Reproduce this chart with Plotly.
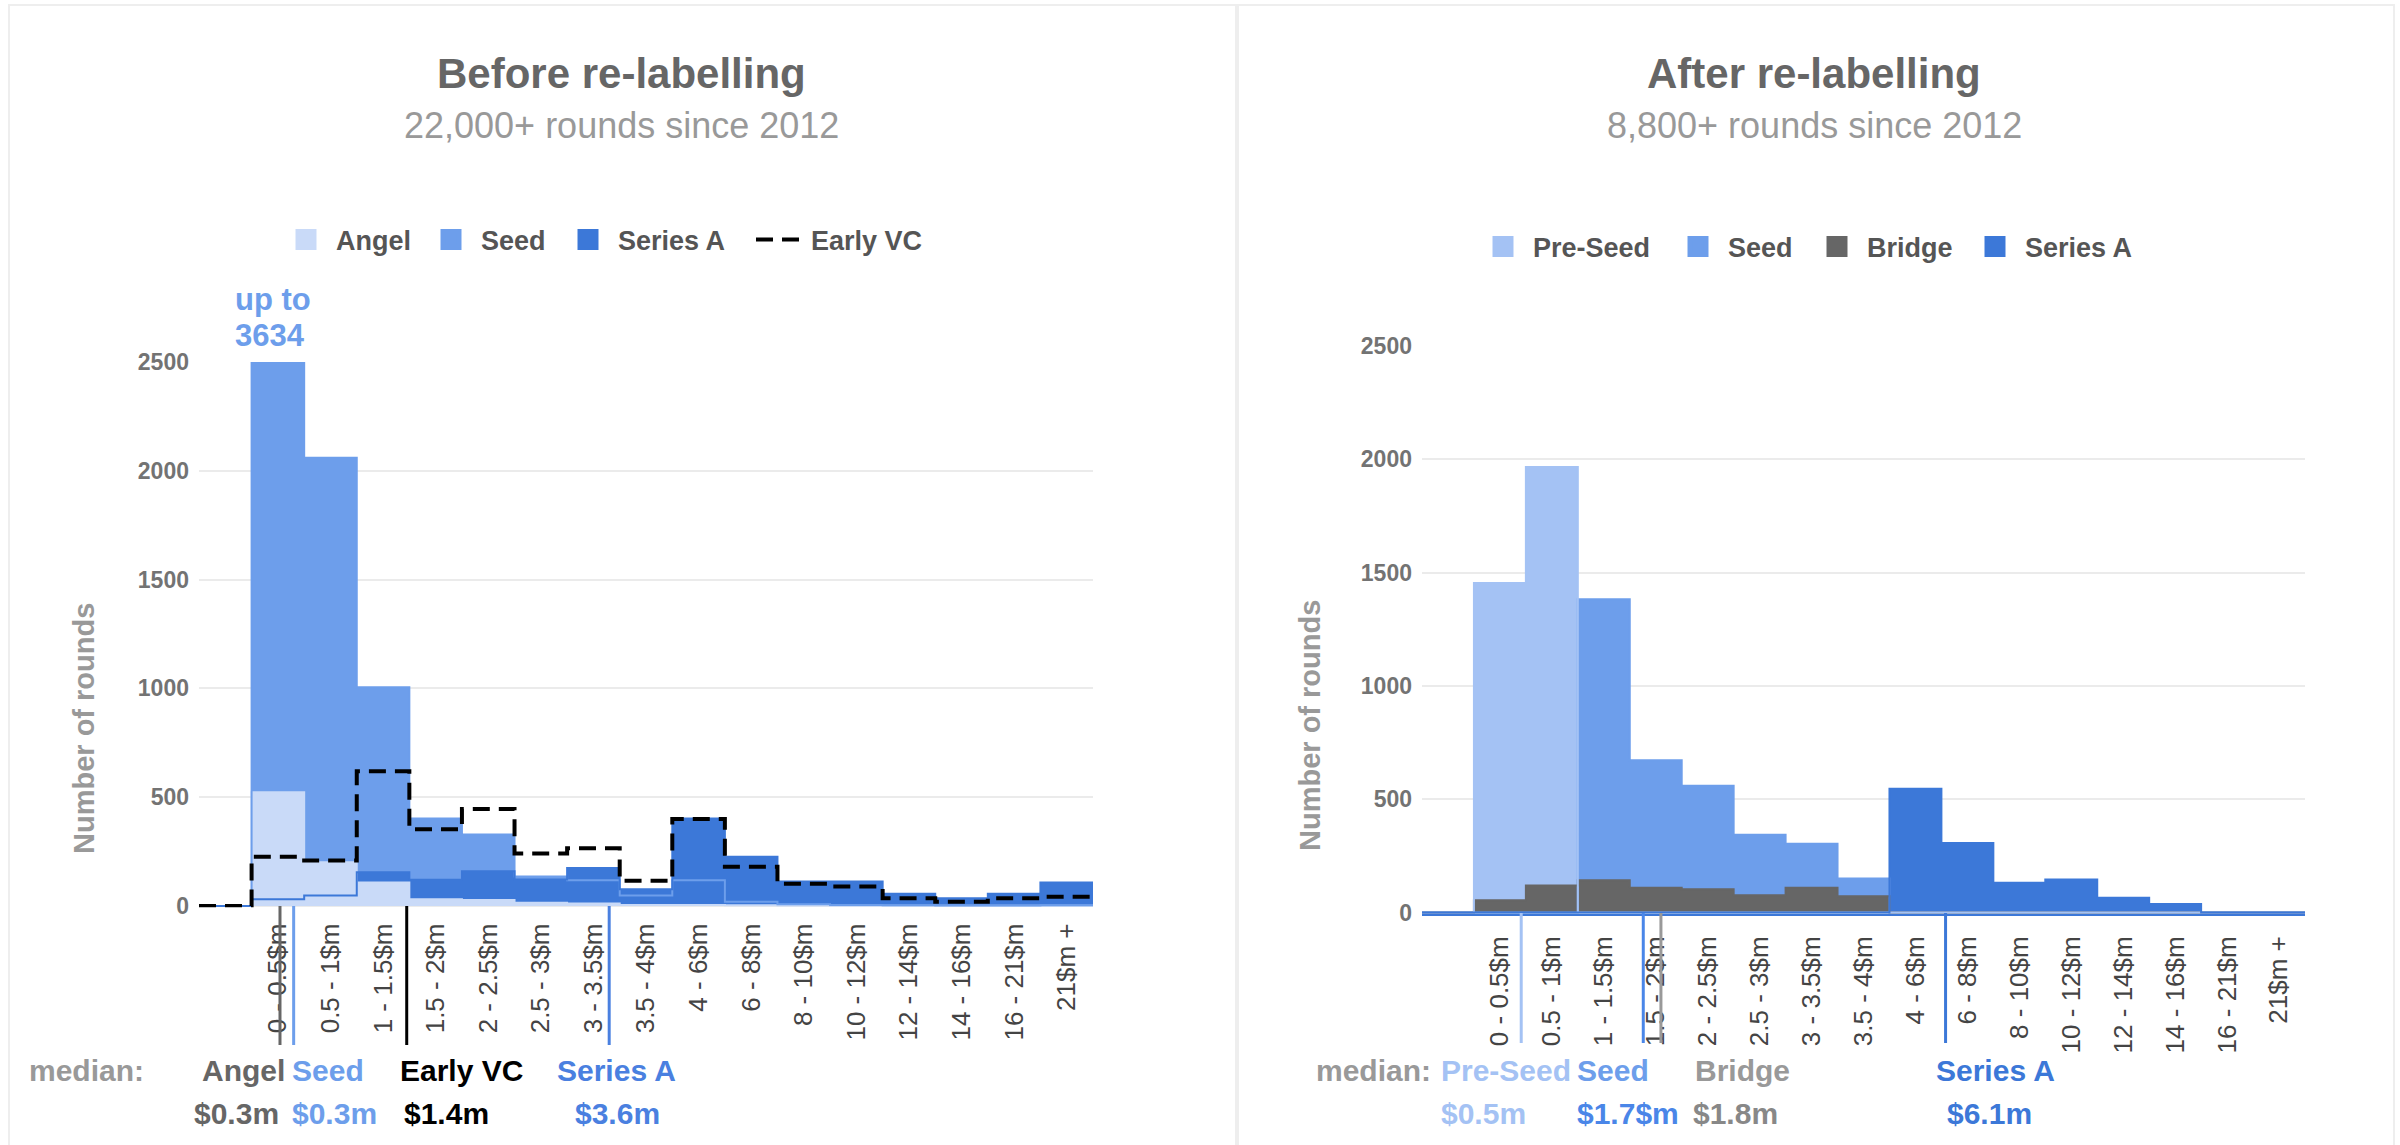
import plotly.graph_objects as go

# ---------------- data ----------------
categories = ["0 - 0.5$m", "0.5 - 1$m", "1 - 1.5$m", "1.5 - 2$m", "2 - 2.5$m",
              "2.5 - 3$m", "3 - 3.5$m", "3.5 - 4$m", "4 - 6$m", "6 - 8$m",
              "8 - 10$m", "10 - 12$m", "12 - 14$m", "14 - 16$m", "16 - 21$m", "21$m +"]

before_angel = [523, 201, 108, 31, 28, 15, 12, 5, 5, 3, 2, 1, 1, 1, 1, 1]
before_seed = [3634, 2060, 1005, 402, 328, 136, 118, 48, 118, 20, 8, 5, 3, 2, 2, 3]
before_series_a = [31, 48, 155, 121, 160, 122, 175, 77, 402, 226, 113, 113, 56, 36, 56, 108]
before_early_vc = [226, 209, 619, 353, 446, 241, 265, 116, 400, 180, 102, 90, 36, 19, 36, 43]

after_pre_seed = [1454, 1966, 0, 0, 0, 0, 0, 0, 0, 0, 0, 0, 0, 0, 0, 0]
after_seed = [0, 0, 1382, 672, 560, 343, 304, 150, 0, 0, 0, 0, 0, 0, 0, 0]
after_bridge = [54, 119, 143, 109, 103, 76, 109, 72, 0, 0, 0, 0, 0, 0, 0, 0]
after_series_a = [0, 0, 0, 0, 0, 0, 0, 0, 546, 307, 131, 146, 65, 38, 0, 0]

y_ticks = [0, 500, 1000, 1500, 2000, 2500]

# medians: label, value text, position on the bin axis
before_median_labels = ["Angel", "Seed", "Early VC", "Series A"]
before_median_values = ["$0.3m", "$0.3m", "$1.4m", "$3.6m"]
before_median_pos = [0.54, 0.80, 2.95, 6.80]

after_median_labels = ["Pre-Seed", "Seed", "Bridge", "Series A"]
after_median_values = ["$0.5m", "$1.7$m", "$1.8m", "$6.1m"]
after_median_pos = [0.91, 3.26, 3.60, 9.08]

# ---------------- style ----------------
W, H = 2400, 1145
FONT = "Liberation Sans, Arial, sans-serif"
C_ANGEL = "#c9daf8"
C_PRESEED = "#a4c2f4"
C_SEED = "#6d9eeb"
C_SERA = "#3c78d8"
C_BRIDGE = "#666666"
C_EVC = "#000000"


def px(x):
    return x / W


def py(y):
    return 1 - y / H


n = len(categories)
xs = list(range(-1, n + 1))


def step(vals):
    return [0] + list(vals) + [vals[-1]]


fig = go.Figure()


def area(vals, color, xa, ya):
    fig.add_trace(go.Scatter(x=xs, y=step(vals), mode="lines", line=dict(shape="hv", width=0, color=color),
                             fill="tozeroy", fillcolor=color, showlegend=False, hoverinfo="skip",
                             xaxis=xa, yaxis=ya))


def line(vals, color, xa, ya, width=2):
    fig.add_trace(go.Scatter(x=xs, y=step(vals), mode="lines", line=dict(shape="hv", width=width, color=color),
                             showlegend=False, hoverinfo="skip", xaxis=xa, yaxis=ya))


def legend_swatch(name, color, legend, lw):
    left = legend == "legend"
    fig.add_trace(go.Scatter(x=[None], y=[None], mode="markers", name=name,
                             marker=dict(symbol="square", size=16, color=color,
                                         line=dict(color=color, width=5)),
                             legend=legend, legendwidth=lw, xaxis="x" if left else "x2",
                             yaxis="y" if left else "y2"))


# legend entries (left)
legend_swatch("Angel", C_ANGEL, "legend", 80)
legend_swatch("Seed", C_SEED, "legend", 72)
legend_swatch("Series A", C_SERA, "legend", 128)
# legend entries (right)
legend_swatch("Pre-Seed", C_PRESEED, "legend2", 130)
legend_swatch("Seed", C_SEED, "legend2", 74)
legend_swatch("Bridge", C_BRIDGE, "legend2", 93)
legend_swatch("Series A", C_SERA, "legend2", 110)

# left chart
area(before_seed, C_SEED, "x", "y")
area(before_series_a, C_SERA, "x", "y")
area(before_angel, C_ANGEL, "x", "y")
line(before_angel, C_ANGEL, "x", "y")
line(before_seed, C_SEED, "x", "y")
line(before_series_a, C_SERA, "x", "y")
fig.add_trace(go.Scatter(x=xs, y=step(before_early_vc), mode="lines", name="Early VC",
                         line=dict(shape="hv", width=4, color=C_EVC, dash="17px,9px"),
                         legend="legend", legendwidth=110, hoverinfo="skip", xaxis="x", yaxis="y"))

# right chart
area(after_pre_seed, C_PRESEED, "x2", "y2")
area(after_seed, C_SEED, "x2", "y2")
area(after_series_a, C_SERA, "x2", "y2")
area(after_bridge, C_BRIDGE, "x2", "y2")
line(after_seed, C_SEED, "x2", "y2")
line(after_bridge, C_BRIDGE, "x2", "y2")
line(after_pre_seed, C_PRESEED, "x2", "y2")
line(after_series_a, C_SERA, "x2", "y2")

tickvals = [i + 0.5 for i in range(n)]

xaxis_common = dict(range=[-1, n], tickvals=tickvals, ticktext=categories, tickangle=-90,
                    showgrid=False, zeroline=False, ticks="", automargin=False, ticklabelstandoff=10,
                    tickfont=dict(family=FONT, size=26, color="#444444"), fixedrange=True)
yaxis_common = dict(range=[-6, 2500], tickvals=y_ticks, showgrid=True, gridcolor="#ebebeb", gridwidth=1.5,
                    zeroline=False, ticks="", automargin=False, showline=False, ticklabelstandoff=9,
                    tickfont=dict(family=FONT, size=23, color="#737373", weight="bold"), fixedrange=True)

legend_common = dict(orientation="h", xanchor="left", yanchor="middle", itemwidth=50,
                     font=dict(family=FONT, size=27, color="#555555", weight="bold"),
                     bgcolor="rgba(0,0,0,0)", borderwidth=0)

fig.update_layout(
    width=W, height=H, margin=dict(l=0, r=0, t=0, b=0),
    paper_bgcolor="white", plot_bgcolor="white",
    xaxis=dict(domain=[px(199), px(1093)], anchor="y", **xaxis_common),
    yaxis=dict(domain=[py(907.3), py(362)], anchor="x", **yaxis_common),
    xaxis2=dict(domain=[px(1422), px(2305)], anchor="y2", showline=True, linecolor=C_SERA, linewidth=2,
                layer="above traces", **xaxis_common),
    yaxis2=dict(domain=[py(913.9), py(346)], anchor="x2", **yaxis_common),
    legend=dict(x=px(276), y=py(240), **legend_common),
    legend2=dict(x=px(1473), y=py(247), **legend_common),
)

# panel borders
for x0, x1 in [(9, 1236), (1238, 2394)]:
    fig.add_shape(type="rect", xref="paper", yref="paper", x0=px(x0), x1=px(x1), y0=py(1160), y1=py(5),
                  line=dict(color="#eeeeee", width=2), fillcolor="rgba(0,0,0,0)", layer="below")

ann = []


def text(x, y, s, size, color, bold=True, xanchor="center", angle=0):
    ann.append(dict(x=px(x), y=py(y), xref="paper", yref="paper", text=s, showarrow=False,
                    xanchor=xanchor, yanchor="middle", textangle=angle,
                    font=dict(family=FONT, size=size, color=color, weight="bold" if bold else "normal")))


# titles
text(621, 73, "Before re-labelling", 42, "#666666")
text(621, 125, "22,000+ rounds since 2012", 36, "#999999", bold=False)
text(1814, 73, "After re-labelling", 42, "#666666")
text(1814, 125, "8,800+ rounds since 2012", 36, "#999999", bold=False)

# axis titles
text(84, 729, "Number of rounds", 29, "#999999", angle=-90)
text(1310, 725, "Number of rounds", 29, "#999999", angle=-90)

# up to annotation
text(233, 300, "up to", 31, C_SEED, xanchor="left")
text(233, 335, "3634", 31, C_SEED, xanchor="left")

# medians - left
before_label_colors = ["#666666", C_SEED, "#000000", "#4a80e0"]
before_line_colors = ["#666666", C_SEED, "#000000", "#4a80e0"]
before_label_x = [200, 290, 398, 555]
before_value_x = [192, 290, 402, 573]
text(27, 1070, "median:", 30, "#999999", xanchor="left")
for i in range(4):
    text(before_label_x[i], 1070, before_median_labels[i], 30, before_label_colors[i], xanchor="left")
    text(before_value_x[i], 1113, before_median_values[i], 30, before_label_colors[i], xanchor="left")
    fig.add_shape(type="line", xref="x", yref="paper", x0=before_median_pos[i], x1=before_median_pos[i],
                  y0=py(906), y1=py(1045), line=dict(color=before_line_colors[i], width=3))

# medians - right
after_label_colors = [C_PRESEED, C_SEED, "#999999", C_SERA]
after_value_colors = [C_PRESEED, "#4a86e8", "#888888", C_SERA]
after_line_colors = [C_PRESEED, "#4a86e8", "#999999", C_SERA]
after_label_x = [1439, 1575, 1693, 1934]
after_value_x = [1439, 1575, 1691, 1945]
text(1314, 1070, "median:", 30, "#999999", xanchor="left")
for i in range(4):
    text(after_label_x[i], 1070, after_median_labels[i], 30, after_label_colors[i], xanchor="left")
    text(after_value_x[i], 1113, after_median_values[i], 30, after_value_colors[i], xanchor="left")
    fig.add_shape(type="line", xref="x2", yref="paper", x0=after_median_pos[i], x1=after_median_pos[i],
                  y0=py(913), y1=py(1043), line=dict(color=after_line_colors[i], width=3))

fig.update_layout(annotations=ann)

fig.write_html("out.html", config={"displayModeBar": False},
               post_script="document.body.style.margin='0';document.body.style.overflow='hidden';")
